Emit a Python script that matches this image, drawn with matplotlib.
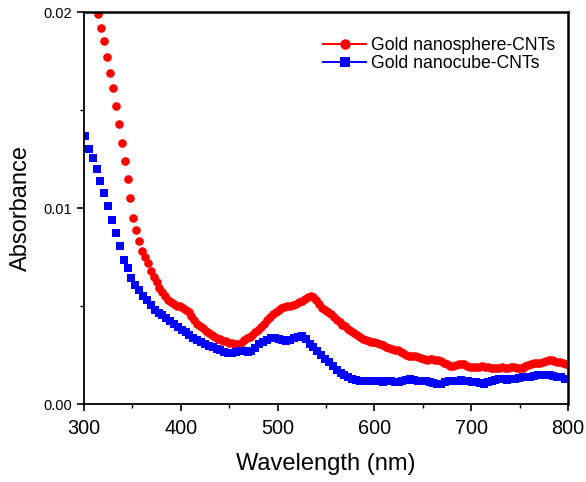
import numpy as np
import matplotlib
matplotlib.use("Agg")
import matplotlib.pyplot as plt
from matplotlib.ticker import MultipleLocator
from matplotlib.lines import Line2D

# Red series: Gold nanosphere-CNTs, 3 nm steps from 300 nm
sphere_start, sphere_step = 300, 3
sphere_abs = [
    0.0229, 0.0222, 0.0215, 0.0208, 0.0203, 0.0199, 0.0192, 0.0185, 0.0177, 0.0169,
    0.0161, 0.0152, 0.0143, 0.0133, 0.0124, 0.0115, 0.0105, 0.0095, 0.0089, 0.0083,
    0.0078, 0.0075, 0.0072, 0.0068, 0.0065, 0.0062, 0.0059, 0.0057, 0.0055, 0.0053,
    0.0052, 0.0051, 0.0050, 0.0050, 0.0049, 0.0048, 0.0047, 0.0045, 0.0043, 0.0041,
    0.0040, 0.0039, 0.0037, 0.0036, 0.0035, 0.0034, 0.0033, 0.0033, 0.0032, 0.0032,
    0.0031, 0.00310, 0.00306, 0.00305, 0.00312, 0.00325, 0.00335, 0.00342, 0.00352, 0.00365,
    0.00380, 0.00395, 0.00410, 0.00428, 0.00443, 0.00458, 0.00470, 0.00482, 0.00490, 0.00495,
    0.00498, 0.00500, 0.00505, 0.00510, 0.00520, 0.00528, 0.00537, 0.00545, 0.00553, 0.00548,
    0.00532, 0.00512, 0.00492, 0.00478, 0.00468, 0.00458, 0.00442, 0.00428, 0.00416, 0.00405,
    0.00396, 0.00385, 0.00373, 0.00362, 0.00350, 0.00340, 0.00333, 0.00328, 0.00322, 0.00318,
    0.00315, 0.00310, 0.00304, 0.00300, 0.00293, 0.00286, 0.00280, 0.00278, 0.00274, 0.00266,
    0.00258, 0.00252, 0.00247, 0.00246, 0.00245, 0.00240, 0.00235, 0.00230, 0.00226, 0.00228,
    0.00230, 0.00226, 0.00222, 0.00218, 0.00210, 0.00202, 0.00196, 0.00195, 0.00200, 0.00205,
    0.00206, 0.00203, 0.00196, 0.00190, 0.00188, 0.00187, 0.00190, 0.00192, 0.00190, 0.00187,
    0.00184, 0.00182, 0.00184, 0.00186, 0.00187, 0.00186, 0.00184, 0.00188, 0.00191, 0.00186,
    0.00182, 0.00185, 0.00192, 0.00200, 0.00206, 0.00210, 0.00210, 0.00209, 0.00212, 0.00218,
    0.00222, 0.00222, 0.00218, 0.00213, 0.00212, 0.00208, 0.00203,
]

# Blue series: Gold nanocube-CNTs, 4 nm steps from 301 nm
cube_start, cube_step = 301, 4
cube_abs = [
    0.01367, 0.01303, 0.01257, 0.01197, 0.01138, 0.01075, 0.01012, 0.00939, 0.00874, 0.00808,
    0.00735, 0.00692, 0.00644, 0.00608, 0.00580, 0.00552, 0.00530, 0.00505, 0.00482, 0.00465,
    0.00452, 0.00438, 0.00424, 0.00408, 0.00392, 0.00378, 0.00365, 0.00350, 0.00336, 0.00325,
    0.00316, 0.00307, 0.00298, 0.00290, 0.00283, 0.00275, 0.00266, 0.00258, 0.00258, 0.00265,
    0.00268, 0.00268, 0.00267, 0.00272, 0.00288, 0.00305, 0.00318, 0.00328, 0.00335, 0.00336,
    0.00332, 0.00325, 0.00320, 0.00328, 0.00335, 0.00342, 0.00345, 0.00330, 0.00308, 0.00290,
    0.00270, 0.00252, 0.00232, 0.00212, 0.00192, 0.00174, 0.00160, 0.00148, 0.00138, 0.00128,
    0.00120, 0.00116, 0.00115, 0.00115, 0.00115, 0.00116, 0.00115, 0.00114, 0.00116, 0.00118,
    0.00114, 0.00110, 0.00115, 0.00125, 0.00128, 0.00122, 0.00118, 0.00117, 0.00116, 0.00114,
    0.00108, 0.00103, 0.00104, 0.00110, 0.00115, 0.00117, 0.00119, 0.00120, 0.00118, 0.00115,
    0.00114, 0.00110, 0.00105, 0.00104, 0.00110, 0.00118, 0.00124, 0.00128, 0.00127, 0.00125,
    0.00126, 0.00130, 0.00134, 0.00136, 0.00137, 0.00140, 0.00144, 0.00147, 0.00149, 0.00148,
    0.00146, 0.00143, 0.00140, 0.00136, 0.00130,
]

sphere_wl = sphere_start + sphere_step * np.arange(len(sphere_abs))
cube_wl = cube_start + cube_step * np.arange(len(cube_abs))

x_ticks = [300, 400, 500, 600, 700, 800]
y_ticks = [0.00, 0.01, 0.02]
y_tick_labels = ["0.00", "0.01", "0.02"]
series_labels = ['Gold nanosphere-CNTs', 'Gold nanocube-CNTs']

plt.rcParams['font.family'] = ['Liberation Sans', 'DejaVu Sans']

fig = plt.figure(figsize=(5.86, 4.82), dpi=100)
ax = fig.add_axes([0.1433, 0.1618, 0.826, 0.8133])

ax.plot(sphere_wl, sphere_abs, linestyle='none', marker='o', markersize=6.2,
        color='#ff0000', markeredgewidth=0)
ax.plot(cube_wl, cube_abs, linestyle='none', marker='s', markersize=5.4,
        color='#0000ff', markeredgewidth=0)

ax.set_xlim(300, 800)
ax.set_ylim(0, 0.02)
ax.set_xticks(x_ticks)
ax.set_yticks(y_ticks)
ax.set_yticklabels(y_tick_labels)
ax.xaxis.set_minor_locator(MultipleLocator(50))
ax.yaxis.set_minor_locator(MultipleLocator(0.005))
ax.tick_params(axis='both', which='both', direction='out', top=False, right=False)
ax.tick_params(axis='both', which='major', length=5, width=1.2)
ax.tick_params(axis='both', which='minor', length=3, width=1.0)
ax.tick_params(axis='x', labelsize=14.3, pad=6.0)
ax.tick_params(axis='y', labelsize=10.5, pad=3.5)
for s in ax.spines.values():
    s.set_linewidth(1.3)
ax.spines['right'].set_linewidth(1.8)
ax.spines['top'].set_linewidth(1.8)

ax.set_xlabel('Wavelength (nm)', fontsize=17, labelpad=10.5)
ax.set_ylabel('Absorbance', fontsize=17, labelpad=8)

handles = [
    Line2D([], [], color='#ff0000', marker='o', markersize=7.5, markeredgewidth=0, linewidth=1.4),
    Line2D([], [], color='#0000ff', marker='s', markersize=6.5, markeredgewidth=0, linewidth=1.4),
]
ax.legend(handles, series_labels, loc='upper left',
          bbox_to_anchor=(0.4938, 0.937), frameon=False, fontsize=12.7,
          handlelength=2.45, handletextpad=0.3, labelspacing=0.1,
          borderpad=0, borderaxespad=0)

fig.savefig('out.png', dpi=100)
